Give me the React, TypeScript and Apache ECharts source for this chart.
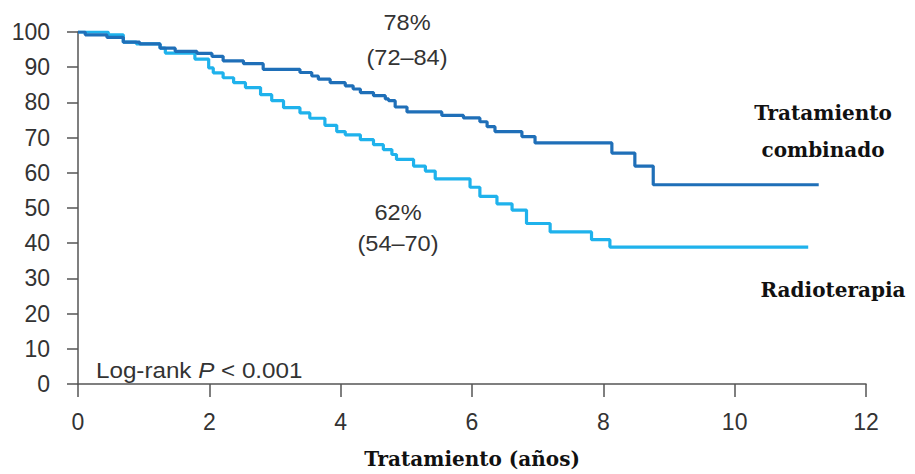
import React, { useEffect, useRef } from "react";
import * as echarts from "echarts";

// Kaplan–Meier step points (time in years, survival %)
const combinadoTimes = [0, 0.11, 0.44, 0.69, 0.94, 1.25, 1.48, 1.81, 2.04, 2.21, 2.52, 2.82, 3.38, 3.56, 3.66, 3.84, 4.07, 4.19, 4.3, 4.5, 4.68, 4.73, 4.83, 5.01, 5.54, 5.87, 6.12, 6.23, 6.35, 6.76, 6.96, 8.13, 8.48, 8.76, 11.28];
const combinadoSurv = [100, 99.2, 98.5, 97.1, 96.6, 95.4, 94.5, 93.9, 93.1, 91.8, 91.0, 89.4, 88.5, 87.5, 86.6, 85.6, 84.7, 83.8, 82.8, 81.9, 81.0, 80.5, 78.7, 77.3, 76.3, 75.6, 74.5, 73.1, 71.7, 70.3, 68.5, 65.6, 61.9, 56.6, 56.6];

const radioTimes = [0, 0.46, 0.69, 0.89, 1.25, 1.33, 1.78, 1.99, 2.06, 2.21, 2.37, 2.55, 2.78, 2.95, 3.13, 3.38, 3.53, 3.76, 3.94, 4.07, 4.3, 4.5, 4.65, 4.78, 4.85, 5.11, 5.29, 5.44, 5.97, 6.12, 6.38, 6.61, 6.83, 7.19, 7.82, 8.1, 11.12];
const radioSurv = [100, 99.2, 97.1, 96.6, 95.4, 94.0, 92.3, 89.8, 88.4, 87.0, 85.6, 84.2, 82.2, 80.5, 78.5, 77.0, 75.5, 73.5, 71.7, 70.8, 69.4, 68.0, 66.6, 65.2, 63.8, 61.9, 60.5, 58.3, 55.9, 53.3, 51.2, 49.4, 45.6, 43.2, 41.0, 38.9, 38.9];

const xTicks = [0, 2, 4, 6, 8, 10, 12];
const yTicks = [0, 10, 20, 30, 40, 50, 60, 70, 80, 90, 100];

const seriesNames = ["Tratamiento combinado", "Radioterapia"];
const annotCombinado = ["78%", "(72–84)"];
const annotRadio = ["62%", "(54–70)"];
const logRankText = ["Log-rank ", "P", " < 0.001"];
const xAxisTitle = "Tratamiento (años)";

const SANS = "'Liberation Sans', Arial, Helvetica, sans-serif";
const SERIF = "'DejaVu Serif', 'Liberation Serif', serif";

function zip(xs: number[], ys: number[]) {
  return xs.map((x, i) => [x, ys[i]]);
}

export default function App() {
  const ref = useRef<HTMLDivElement>(null);
  useEffect(() => {
    if (!ref.current) return;
    const chart = echarts.init(ref.current, undefined, { renderer: "svg" });
    const axisColor = "#555";
    const labelColor = "#333";
    const annot = (text: string, x: number, y: number) => ({
      type: "text",
      x,
      y,
      scaleX: 1.07,
      style: { text, font: `22px ${SANS}`, fill: labelColor, textAlign: "center", textVerticalAlign: "middle" },
    });
    const serifLabel = (text: string, x: number, y: number) => ({
      type: "text",
      x,
      y,
      style: { text, font: `bold 20px ${SERIF}`, fill: "#111", textAlign: "center", textVerticalAlign: "middle" },
    });
    chart.setOption({
      animation: false,
      backgroundColor: "#ffffff",
      grid: { left: 78, right: 49, top: 32, bottom: 84, containLabel: false },
      xAxis: {
        type: "value",
        min: xTicks[0],
        max: xTicks[xTicks.length - 1],
        interval: 2,
        splitLine: { show: false },
        axisLine: { show: true, lineStyle: { color: axisColor, width: 1.5 } },
        axisTick: { show: true, length: 13, lineStyle: { color: axisColor, width: 1.5 } },
        axisLabel: { color: labelColor, fontFamily: SANS, fontSize: 23, margin: 26 },
        name: xAxisTitle,
        nameLocation: "middle",
        nameGap: 65,
        nameTextStyle: { color: "#111", fontFamily: SERIF, fontWeight: "bold", fontSize: 20 },
      },
      yAxis: {
        type: "value",
        min: yTicks[0],
        max: yTicks[yTicks.length - 1],
        interval: 10,
        splitLine: { show: false },
        axisLine: { show: true, lineStyle: { color: axisColor, width: 1.5 } },
        axisTick: { show: true, length: 11, lineStyle: { color: axisColor, width: 1.5 } },
        axisLabel: { color: labelColor, fontFamily: SANS, fontSize: 23, margin: 28 },
      },
      series: [
        {
          name: seriesNames[0],
          type: "line",
          step: "end",
          showSymbol: false,
          symbol: "none",
          data: zip(combinadoTimes, combinadoSurv),
          lineStyle: { color: "#1f6fb8", width: 3.2 },
          itemStyle: { color: "#1f6fb8" },
          z: 3,
        },
        {
          name: seriesNames[1],
          type: "line",
          step: "end",
          showSymbol: false,
          symbol: "none",
          data: zip(radioTimes, radioSurv),
          lineStyle: { color: "#1fb2ec", width: 3.2 },
          itemStyle: { color: "#1fb2ec" },
          z: 2,
        },
      ],
      graphic: [
        annot(annotCombinado[0], 407, 22),
        annot(annotCombinado[1], 407, 57),
        annot(annotRadio[0], 398, 212),
        annot(annotRadio[1], 398, 243),
        serifLabel("Tratamiento", 823, 113),
        serifLabel("combinado", 823, 150),
        serifLabel(seriesNames[1], 833, 290),
        {
          type: "text",
          x: 96,
          y: 370,
          scaleX: 1.1,
          style: {
            text: `${logRankText[0]}{i|${logRankText[1]}}${logRankText[2]}`,
            font: `22px ${SANS}`,
            fill: labelColor,
            textAlign: "left",
            textVerticalAlign: "middle",
            rich: { i: { fontStyle: "italic", fontSize: 22, fontFamily: SANS, fill: labelColor } },
          },
        },
      ],
    });
    return () => chart.dispose();
  }, []);
  return <div ref={ref} style={{ position: "fixed", left: 0, top: 0, width: 915, height: 474 }} />;
}
